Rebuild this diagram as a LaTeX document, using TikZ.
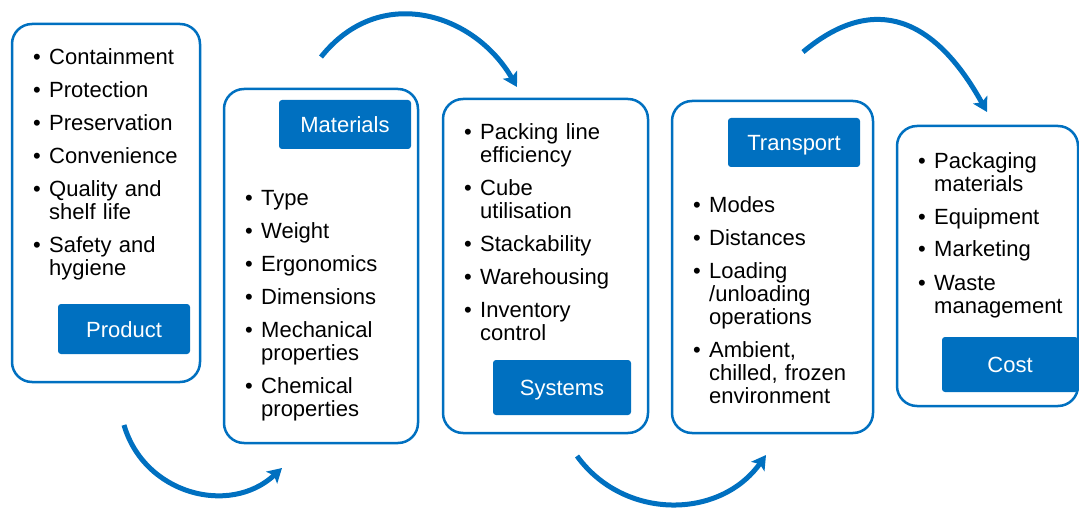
\documentclass[tikz,border=0pt]{standalone}
\usepackage{fontspec}
\setmainfont{Liberation Sans}
\usetikzlibrary{arrows.meta}
\definecolor{pblue}{HTML}{0070C0}
\newcommand{\fitem}[1]{\hangindent=16pt\hangafter=1\noindent\makebox[16pt][l]{\textbullet}#1}
\newcommand{\bitem}[1]{\par\hangindent=16pt\hangafter=1\noindent\makebox[16pt][l]{\textbullet}#1}
\newcommand{\listsetup}{\setlength{\parskip}{10pt}}
\begin{document}
\begin{tikzpicture}[x=1pt,y=-1pt,
  panel/.style={draw=pblue, line width=2.5pt, rounded corners=20pt, fill=white, inner sep=0pt},
  tag/.style={fill=pblue, rounded corners=3pt, text=white, inner sep=0pt,
              text height=16pt, text depth=0pt, font=\fontsize{22}{26}\selectfont},
  items/.style={anchor=base west, inner sep=0pt, text width=200pt, font=\fontsize{22}{23}\selectfont},
  flow/.style={draw=pblue, line width=5pt, -{Stealth[length=14pt,width=16pt,inset=3pt]}}]
\useasboundingbox (0,0) rectangle (1079,508);
\begin{scope}
\clip (0,0) rectangle (1079,508);
% panels
\node[panel, minimum width=188pt, minimum height=358pt] (b1) at (106,203) {};
\node[panel, minimum width=194pt, minimum height=354pt] (b2) at (321,266) {};
\node[panel, minimum width=205pt, minimum height=334pt] (b3) at (545.5,266) {};
\node[panel, minimum width=201pt, minimum height=332pt] (b4) at (772.5,267) {};
\node[panel, minimum width=181pt, minimum height=280pt] (b5) at (987.5,266) {};
% tags
\node[tag, minimum width=132pt, minimum height=50pt] (l1) at (124,329) {Product};
\node[tag, minimum width=132pt, minimum height=49pt] (l2) at (345,124.5) {Materials};
\node[tag, minimum width=138pt, minimum height=55pt] (l3) at (562,387.5) {Systems};
\node[tag, minimum width=132pt, minimum height=49pt] (l4) at (794,142.5) {Transport};
\node[tag, minimum width=136pt, minimum height=55pt] (l5) at (1010,364.5) {Cost};
% lists
\node[items] (t1) at (33,65) {\listsetup\fitem{Containment}\bitem{Protection}\bitem{Preservation}\bitem{Convenience}\bitem{Quality and\newline shelf life}\bitem{Safety and\newline hygiene}\par};
\node[items] (t2) at (245,205) {\listsetup\fitem{Type}\bitem{Weight}\bitem{Ergonomics}\bitem{Dimensions}\bitem{Mechanical\newline properties}\bitem{Chemical\newline properties}\par};
\node[items] (t3) at (464,139.5) {\listsetup\fitem{Packing line\newline efficiency}\bitem{Cube\newline utilisation}\bitem{Stackability}\bitem{Warehousing}\bitem{Inventory\newline control}\par};
\node[items] (t4) at (693,212.5) {\listsetup\fitem{Modes}\bitem{Distances}\bitem{Loading\newline /unloading\newline operations}\bitem{Ambient,\newline chilled, frozen\newline environment}\par};
\node[items] (t5) at (918,168) {\listsetup\fitem{Packaging\newline materials}\bitem{Equipment}\bitem{Marketing}\bitem{Waste\newline management}\par};
% arrows
\coordinate (a1s) at (124,425);
\coordinate (a1e) at (282,468);
\coordinate (a2s) at (321,57);
\coordinate (a2e) at (517,87);
\coordinate (a3s) at (577,456);
\coordinate (a3e) at (766,455);
\coordinate (a4s) at (803,52);
\coordinate (a4e) at (987,112);
\draw[flow] (a1s) .. controls (144,494) and (229.6,516.6) .. (a1e);
\draw[flow] (a2s) .. controls (379.9,-17.1) and (474.5,13.4) .. (a2e);
\draw[flow] (a3s) .. controls (623.6,520.4) and (719.9,519.8) .. (a3e);
\draw[flow] (a4s) .. controls (875.8,-9.1) and (936,20.1) .. (a4e);
\end{scope}
\end{tikzpicture}
\end{document}
